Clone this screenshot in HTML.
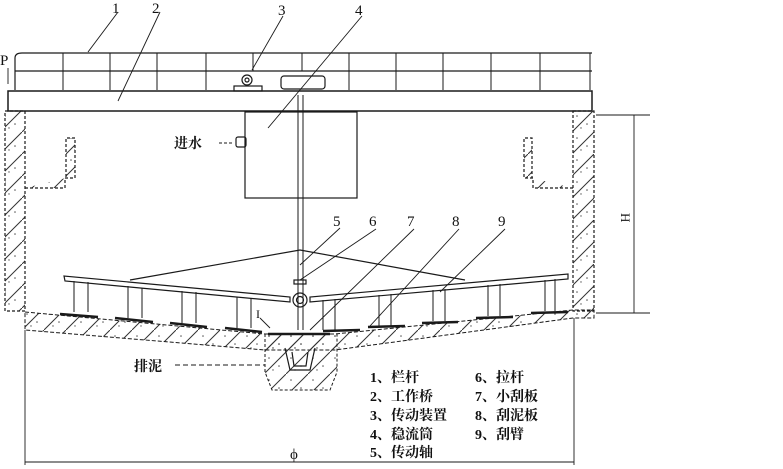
<!DOCTYPE html>
<html><head><meta charset="utf-8"><style>
html,body{margin:0;padding:0;background:#fff}
svg{display:block}
text{font-family:"Liberation Serif","Noto Serif CJK SC",serif;fill:#111}
</style></head><body>
<svg width="783" height="469" viewBox="0 0 783 469" xmlns="http://www.w3.org/2000/svg">
<defs>
<pattern id="h" width="22" height="22" patternUnits="userSpaceOnUse">
<path d="M0 22 L22 0" stroke="#333" stroke-width="1"/>
<circle cx="5" cy="6" r="0.8" fill="#555"/><circle cx="15" cy="14" r="0.8" fill="#555"/><circle cx="9" cy="18" r="0.7" fill="#555"/>
</pattern>
</defs>
<g stroke="#1a1a1a" fill="none" stroke-width="1.2">
<path d="M15 90 L15 58 Q15 53 22 53 L592 53"/>
<line x1="15" y1="71" x2="592" y2="71"/>
<g stroke-width="1">
<line x1="63" y1="53" x2="63" y2="90"/><line x1="110" y1="53" x2="110" y2="90"/>
<line x1="157" y1="53" x2="157" y2="90"/><line x1="206" y1="53" x2="206" y2="90"/>
<line x1="253" y1="53" x2="253" y2="71"/><line x1="302" y1="53" x2="302" y2="71"/>
<line x1="349" y1="53" x2="349" y2="90"/><line x1="396" y1="53" x2="396" y2="90"/>
<line x1="443" y1="53" x2="443" y2="90"/><line x1="491" y1="53" x2="491" y2="90"/>
<line x1="540" y1="53" x2="540" y2="90"/><line x1="590" y1="53" x2="590" y2="90"/>
</g>
<rect x="234" y="86" width="28" height="5"/>
<circle cx="247" cy="80" r="5"/><circle cx="247" cy="80" r="2"/>
<rect x="281" y="76" width="44" height="13" rx="3"/>
<rect x="8" y="91" width="584" height="20" stroke-width="1.5"/>
<rect x="5" y="111" width="20" height="200" fill="url(#h)" stroke-dasharray="3 2"/>
<rect x="573" y="111" width="21" height="200" fill="url(#h)" stroke-dasharray="3 2"/>
<path d="M25 188 L65 188 L65 178 L75 178 L75 138 L66 138 L66 178" fill="url(#h)" stroke-dasharray="3 2"/>
<path d="M573 188 L533 188 L533 178 L524 178 L524 138 L532 138 L532 178" fill="url(#h)" stroke-dasharray="3 2"/>
<rect x="245" y="112" width="112" height="86"/>
<rect x="236" y="137" width="10" height="10" rx="2"/>
<line x1="298" y1="95" x2="298" y2="330" stroke-width="1"/>
<line x1="303" y1="95" x2="303" y2="330" stroke-width="1"/>
<path d="M130 280 L300 250 L465 280"/>
<path d="M64 276 L65 281 L290 302 L290 297 Z"/>
<path d="M568 274 L568 279 L310 302 L310 297 Z"/>
<circle cx="300" cy="300" r="7"/><circle cx="300" cy="300" r="3.5"/>
<rect x="294" y="280" width="12" height="4"/>
<g stroke-width="1">
<line x1="74" y1="281" x2="74" y2="312"/><line x1="88" y1="282" x2="88" y2="312"/>
<line x1="128" y1="286" x2="128" y2="318"/><line x1="142" y1="288" x2="142" y2="318"/>
<line x1="182" y1="291" x2="182" y2="323"/><line x1="196" y1="292" x2="196" y2="323"/>
<line x1="237" y1="297" x2="237" y2="328"/><line x1="251" y1="298" x2="251" y2="328"/>
<line x1="555" y1="279" x2="555" y2="311"/><line x1="545" y1="280" x2="545" y2="311"/>
<line x1="500" y1="284" x2="500" y2="316"/><line x1="488" y1="285" x2="488" y2="316"/>
<line x1="445" y1="289" x2="445" y2="321"/><line x1="433" y1="290" x2="433" y2="321"/>
<line x1="391" y1="294" x2="391" y2="326"/><line x1="379" y1="295" x2="379" y2="326"/>
<line x1="335" y1="299" x2="335" y2="330"/><line x1="323" y1="300" x2="323" y2="330"/>
</g>
<path d="M25 312 L265 334 L335 334 L573 310 L594 310 L594 318 L573 318 L335 350 L265 350 L25 330 Z" fill="url(#h)" stroke-dasharray="4 2" stroke-width="1"/>
<path d="M265 334 L265 372 L272 390 L330 390 L337 372 L337 334" fill="url(#h)" stroke-dasharray="3 2" stroke-width="1"/>
<path d="M285 348 L290 370 L310 370 L315 348 M292 352 L294 366 L306 366 L308 352"/>
<g stroke-width="2.5">
<line x1="60" y1="314" x2="98" y2="317"/><line x1="115" y1="318" x2="153" y2="322"/>
<line x1="170" y1="323" x2="207" y2="327"/><line x1="225" y1="328" x2="262" y2="332"/>
<line x1="268" y1="334" x2="330" y2="334"/>
<line x1="323" y1="331" x2="360" y2="330"/><line x1="368" y1="327" x2="405" y2="326"/>
<line x1="422" y1="323" x2="458" y2="322"/><line x1="476" y1="318" x2="513" y2="317"/>
<line x1="531" y1="313" x2="568" y2="312"/>
</g>
<g stroke-width="0.9">
<line x1="118" y1="12" x2="88" y2="52"/><line x1="160" y1="12" x2="118" y2="101"/>
<line x1="283" y1="16" x2="252" y2="70"/><line x1="362" y1="16" x2="268" y2="128"/>
<line x1="340" y1="228" x2="300" y2="265"/><line x1="376" y1="229" x2="300" y2="280"/>
<line x1="414" y1="229" x2="310" y2="330"/><line x1="459" y1="229" x2="370" y2="326"/>
<line x1="505" y1="229" x2="440" y2="292"/>
<line x1="260" y1="318" x2="270" y2="328"/>
<line x1="219" y1="143" x2="234" y2="143" stroke-dasharray="3 2"/>
<line x1="175" y1="365" x2="265" y2="365" stroke-dasharray="5 3"/>
<line x1="8" y1="68" x2="8" y2="84"/>
<line x1="596" y1="115" x2="650" y2="115"/><line x1="596" y1="313" x2="650" y2="313"/>
<line x1="634" y1="115" x2="634" y2="313"/>
<line x1="25" y1="330" x2="25" y2="465"/><line x1="574" y1="318" x2="574" y2="465"/>
<line x1="25" y1="462" x2="574" y2="462"/>
</g>
</g>
<g font-size="15">
<text x="112" y="13">1</text><text x="152" y="13">2</text><text x="278" y="15">3</text><text x="355" y="15">4</text>
<text x="0" y="65">P</text>
<text x="333" y="226">5</text><text x="369" y="226">6</text><text x="407" y="226">7</text><text x="452" y="226">8</text><text x="498" y="226">9</text>
<text x="256" y="318" font-size="12">I</text>
<text x="174" y="148" font-weight="bold" font-size="14">进水</text>
<text x="134" y="371" font-weight="bold" font-size="14">排泥</text>
<text x="290" y="459">ϕ</text>
<text transform="translate(621,213) rotate(90)" font-size="13">H</text>
</g>
<g font-size="14" font-weight="bold">
<text x="370" y="382">1、栏杆</text>
<text x="370" y="401">2、工作桥</text>
<text x="370" y="420">3、传动装置</text>
<text x="370" y="439">4、稳流筒</text>
<text x="370" y="457">5、传动轴</text>
<text x="475" y="382">6、拉杆</text>
<text x="475" y="401">7、小刮板</text>
<text x="475" y="420">8、刮泥板</text>
<text x="475" y="439">9、刮臂</text>
</g>
</svg>
</body></html>
